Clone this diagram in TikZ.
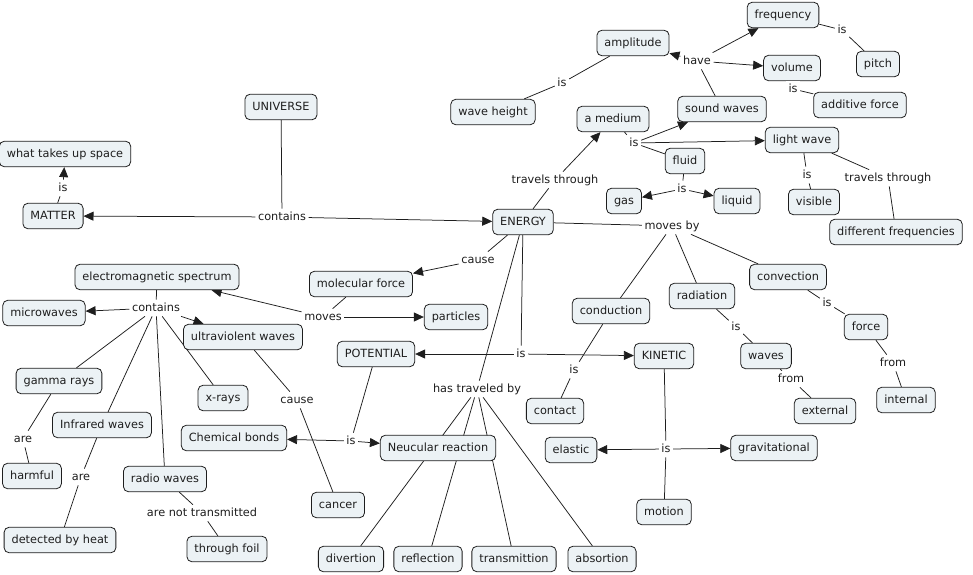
\documentclass[tikz,border=0pt]{standalone}
\usepackage{fontspec}
\setmainfont{DejaVu Sans}
\usetikzlibrary{arrows.meta}
\definecolor{cfill}{RGB}{236,242,245}
\definecolor{ink}{RGB}{30,30,30}
\pgfdeclarelayer{bg}
\pgfsetlayers{bg,main}
\begin{document}
\begin{tikzpicture}[x=1pt,y=-1pt,
 concept/.style={draw=ink, fill=cfill, rounded corners=5pt, inner xsep=7.5pt, inner ysep=0pt,
   minimum height=25.5pt, text height=8.7pt, text depth=2.6pt, font=\fontsize{11.3}{13}\selectfont, text=ink, line width=0.8pt},
 lbl/.style={inner sep=2.5pt, text height=8.7pt, text depth=2.6pt, font=\fontsize{11.3}{13}\selectfont, text=ink, fill=white},
 ln/.style={draw=ink, line width=0.75pt},
 arr/.style={ln, -{Triangle[length=10pt,width=9pt]}}
]
\useasboundingbox (0,0) rectangle (973,574);
% concepts
\node[concept] (freq) at (783,15) {frequency};
\node[concept] (ampl) at (633,43) {amplitude};
\node[concept] (pitch) at (878,64) {pitch};
\node[concept] (vol) at (792,68) {volume};
\node[concept] (sound) at (722,109) {sound waves};
\node[concept] (addf) at (860,105) {additive force};
\node[concept] (wh) at (493,112) {wave height};
\node[concept] (med) at (613,119) {a medium};
\node[concept] (light) at (802,140) {light wave};
\node[concept] (fluid) at (685,161) {fluid};
\node[concept] (gas) at (624,201) {gas};
\node[concept] (liq) at (737,201) {liquid};
\node[concept] (vis) at (814,202) {visible};
\node[concept] (difff) at (896,232) {different frequencies};
\node[concept] (univ) at (281,107) {UNIVERSE};
\node[concept] (space) at (65,154) {what takes up space};
\node[concept] (matter) at (53,216) {MATTER};
\node[concept] (energy) at (523,222) {ENERGY};
\node[concept] (ems) at (157,277) {electromagnetic spectrum};
\node[concept] (molf) at (361,284) {molecular force};
\node[concept] (micro) at (44,313) {microwaves};
\node[concept] (part) at (456,317) {particles};
\node[concept] (uv) at (243,337) {ultraviolent waves};
\node[concept] (pot) at (376,354) {POTENTIAL};
\node[concept] (cond) at (611,311) {conduction};
\node[concept] (rad) at (702,296) {radiation};
\node[concept] (conv) at (788,277) {convection};
\node[concept] (force) at (866,327) {force};
\node[concept] (kin) at (664,356) {KINETIC};
\node[concept] (waves) at (766,356) {waves};
\node[concept] (gamma) at (59,381) {gamma rays};
\node[concept] (xray) at (223,398) {x-rays};
\node[concept] (ir) at (102,425) {Infrared waves};
\node[concept] (chem) at (234,438) {Chemical bonds};
\node[concept] (neu) at (438,448) {Neucular reaction};
\node[concept] (contact) at (555,411) {contact};
\node[concept] (ext) at (825,411) {external};
\node[concept] (int) at (906,400) {internal};
\node[concept] (elastic) at (571,450) {elastic};
\node[concept] (grav) at (774,448) {gravitational};
\node[concept] (harm) at (32,476) {harmful};
\node[concept] (radio) at (165,479) {radio waves};
\node[concept] (cancer) at (338,505) {cancer};
\node[concept] (motion) at (664,512) {motion};
\node[concept] (heat) at (60,540) {detected by heat};
\node[concept] (foil) at (227,549) {through foil};
\node[concept] (div) at (351,559) {divertion};
\node[concept] (refl) at (428,559) {reflection};
\node[concept] (trans) at (514,559) {transmittion};
\node[concept] (abs) at (602,559) {absortion};
% link labels
\node[lbl] (iswh) at (562,83) {is};
\node[lbl] (have) at (697,61) {have};
\node[lbl] (isfp) at (842,30) {is};
\node[lbl] (isva) at (793,89) {is};
\node[lbl] (ismed) at (634,143) {is};
\node[lbl] (tt1) at (555,180) {travels through};
\node[lbl] (isfl) at (682,189) {is};
\node[lbl] (islw) at (807,175) {is};
\node[lbl] (tt2) at (888,178) {travels through};
\node[lbl] (ismat) at (63,188) {is};
\node[lbl] (cont1) at (282,217) {contains};
\node[lbl] (cause1) at (478,260) {cause};
\node[lbl] (movby) at (672,226) {moves by};
\node[lbl] (cont2) at (156,308) {contains};
\node[lbl] (moves) at (323,317) {moves};
\node[lbl] (isen) at (521,354) {is};
\node[lbl] (iscond) at (574,370) {is};
\node[lbl] (israd) at (736,327) {is};
\node[lbl] (isconv) at (827,303) {is};
\node[lbl] (from1) at (791,379) {from};
\node[lbl] (from2) at (893,363) {from};
\node[lbl] (htb) at (477,389) {has traveled by};
\node[lbl] (cause2) at (297,400) {cause};
\node[lbl] (ispot) at (351,441) {is};
\node[lbl] (iskin) at (666,449) {is};
\node[lbl] (are1) at (23,439) {are};
\node[lbl] (are2) at (81,477) {are};
\node[lbl] (ant) at (202,513) {are not transmitted};
% connectors
\begin{pgfonlayer}{bg}
\fill[white] (0,0) rectangle (973,574);
\draw[ln] (wh) -- (iswh) -- (ampl);
\draw[ln] (sound) -- (have);
\draw[arr] (have) -- (ampl);
\draw[arr] (have) -- (freq);
\draw[arr] (have) -- (vol);
\draw[ln] (freq) -- (isfp) -- (pitch);
\draw[ln] (vol) -- (isva) -- (addf);
\draw[ln] (med) -- (ismed) -- (fluid);
\draw[arr] (ismed) -- (sound);
\draw[arr] (ismed) -- (light);
\draw[ln] (energy) -- (tt1);
\draw[arr] (tt1) -- (med);
\draw[ln] (fluid) -- (isfl);
\draw[arr] (isfl) -- (gas);
\draw[arr] (isfl) -- (liq);
\draw[ln] (light) -- (islw) -- (vis);
\draw[ln] (light) -- (tt2) -- (difff);
\draw[ln] (matter) -- (ismat);
\draw[arr] (ismat) -- (space);
\draw[ln] (univ) -- (cont1);
\draw[arr] (cont1) -- (matter);
\draw[arr] (cont1) -- (energy);
\draw[ln] (energy) -- (cause1);
\draw[arr] (cause1) -- (molf);
\draw[ln] (energy) -- (movby);
\draw[ln] (movby) -- (cond);
\draw[ln] (movby) -- (rad);
\draw[ln] (movby) -- (conv);
\draw[ln] (ems) -- (cont2);
\draw[arr] (cont2) -- (micro);
\draw[arr] (cont2) -- (uv);
\draw[ln] (cont2) -- (gamma);
\draw[ln] (cont2) -- (ir);
\draw[ln] (cont2) -- (radio);
\draw[ln] (cont2) -- (xray);
\draw[ln] (molf) -- (moves);
\draw[arr] (moves) -- (ems);
\draw[arr] (moves) -- (part);
\draw[ln] (energy) -- (isen);
\draw[arr] (isen) -- (pot);
\draw[arr] (isen) -- (kin);
\draw[ln] (cond) -- (iscond) -- (contact);
\draw[ln] (rad) -- (israd) -- (waves);
\draw[ln] (waves) -- (from1) -- (ext);
\draw[ln] (conv) -- (isconv) -- (force);
\draw[ln] (force) -- (from2) -- (int);
\draw[ln] (energy) -- (htb);
\draw[ln] (htb) -- (div);
\draw[ln] (htb) -- (refl);
\draw[ln] (htb) -- (trans);
\draw[ln] (htb) -- (abs);
\draw[ln] (uv) -- (cause2) -- (cancer);
\draw[ln] (pot) -- (ispot);
\draw[arr] (ispot) -- (chem);
\draw[arr] (ispot) -- (neu);
\draw[ln] (kin) -- (iskin) -- (motion);
\draw[arr] (iskin) -- (elastic);
\draw[arr] (iskin) -- (grav);
\draw[ln] (gamma) -- (are1) -- (harm);
\draw[ln] (ir) -- (are2) -- (heat);
\draw[ln] (radio) -- (ant) -- (foil);
\end{pgfonlayer}
\end{tikzpicture}
\end{document}
